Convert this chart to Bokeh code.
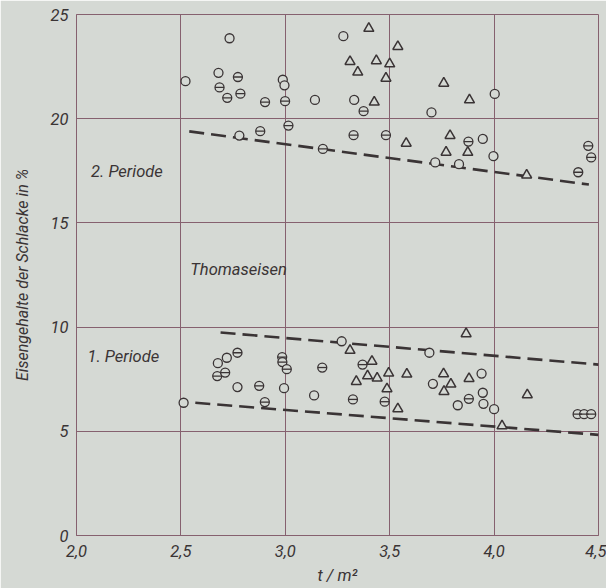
import re
from bokeh.plotting import figure
from bokeh.models import FixedTicker, Label
from bokeh.embed import file_html
from bokeh.resources import INLINE

# ---- data ----
x_ticks = [2.0, 2.5, 3.0, 3.5, 4.0, 4.5]
x_tick_labels = ["2,0", "2,5", "3,0", "3,5", "4,0", "4,5"]
y_ticks = [0, 5, 10, 15, 20, 25]

# 2. Periode
p2_open_x = [2.733, 2.522, 2.68, 2.988, 2.996, 3.142, 3.278, 3.33, 3.70, 2.78, 3.718, 4.003, 3.946, 3.832, 3.997]
p2_open_y = [23.86, 21.8, 22.2, 21.87, 21.6, 20.9, 23.96, 20.9, 20.3, 19.19, 17.9, 21.19, 19.03, 17.82, 18.2]
p2_bar_x = [2.773, 2.685, 2.722, 2.785, 2.903, 2.999, 3.375, 2.88, 3.015, 3.18, 3.327, 3.482, 3.877, 4.451, 4.465, 4.403]
p2_bar_y = [22.0, 21.5, 21.0, 21.2, 20.8, 20.84, 20.36, 19.4, 19.67, 18.55, 19.21, 19.21, 18.9, 18.7, 18.14, 17.43]
p2_tri_x = [3.40, 3.539, 3.31, 3.436, 3.50, 3.347, 3.482, 3.426, 3.759, 3.579, 3.789, 3.77, 3.882, 3.874, 4.156]
p2_tri_y = [24.33, 23.46, 22.74, 22.78, 22.63, 22.23, 21.94, 20.79, 21.7, 18.82, 19.19, 18.39, 20.9, 18.38, 17.29]

# 1. Periode
p1_open_x = [2.513, 2.677, 2.72, 2.771, 2.994, 3.138, 3.27, 3.69, 3.707, 3.94, 3.946, 3.949, 3.826, 4.0]
p1_open_y = [6.37, 8.27, 8.53, 7.12, 7.07, 6.72, 9.32, 8.77, 7.28, 7.77, 6.85, 6.32, 6.25, 6.06]
p1_bar_x = [2.771, 2.674, 2.712, 2.875, 2.902, 2.985, 2.986, 3.007, 3.177, 3.37, 3.324, 3.476, 3.879, 4.40, 4.431, 4.465]
p1_bar_y = [8.77, 7.65, 7.82, 7.18, 6.4, 8.56, 8.32, 7.98, 8.06, 8.2, 6.53, 6.42, 6.56, 5.82, 5.82, 5.82]
p1_tri_x = [3.31, 3.415, 3.34, 3.394, 3.44, 3.495, 3.487, 3.582, 3.539, 3.758, 3.76, 3.866, 3.793, 3.88, 4.038, 4.159]
p1_tri_y = [8.88, 8.36, 7.39, 7.66, 7.55, 7.79, 7.04, 7.74, 6.08, 7.76, 6.91, 9.68, 7.26, 7.53, 5.26, 6.75]

# dashed trend lines (end points)
line_p2_x = [2.54, 4.454]
line_p2_y = [19.39, 16.84]
line_p1_upper_x = [2.69, 4.50]
line_p1_upper_y = [9.74, 8.20]
line_p1_lower_x = [2.569, 4.50]
line_p1_lower_y = [6.37, 4.83]

# ---- style ----
BG = "#d5d9d4"
INK = "#3a3435"
GRID = "#86616f"
FONT = "Roboto"

p = figure(width=606, height=588, x_range=(2.0, 4.5), y_range=(0, 25),
           output_backend="svg", toolbar_location=None,
           min_border_left=76, min_border_right=8, min_border_top=14, min_border_bottom=53)
p.background_fill_color = BG
p.border_fill_color = BG
p.outline_line_color = GRID
p.outline_line_width = 1

p.xgrid.ticker = FixedTicker(ticks=x_ticks)
p.ygrid.ticker = FixedTicker(ticks=y_ticks)
for g in (p.xgrid, p.ygrid):
    g.grid_line_color = GRID
    g.grid_line_width = 1

p.xaxis.ticker = FixedTicker(ticks=x_ticks)
p.xaxis.major_label_overrides = {t: l for t, l in zip(x_ticks, x_tick_labels)}
p.yaxis.ticker = FixedTicker(ticks=y_ticks)
for ax in (p.xaxis, p.yaxis):
    ax.axis_line_color = GRID
    ax.major_tick_line_color = None
    ax.minor_tick_line_color = None
    ax.major_tick_out = 0
    ax.major_tick_in = 0
    ax.major_label_text_font = FONT
    ax.major_label_text_font_style = "italic"
    ax.major_label_text_font_size = "16.5px"
    ax.major_label_text_color = INK
    ax.axis_label_text_font = FONT
    ax.axis_label_text_font_style = "italic"
    ax.axis_label_text_color = INK
p.xaxis.major_label_standoff = 9
p.yaxis.major_label_standoff = 8
p.xaxis.axis_label = "t / m²"
p.xaxis.axis_label_text_font_size = "16.5px"
p.xaxis.axis_label_standoff = 6
p.yaxis.axis_label = "Eisengehalte der Schlacke in %"
p.yaxis.axis_label_text_font_size = "16px"
p.yaxis.axis_label_standoff = 16

# dashed lines
for lx, ly in ((line_p2_x, line_p2_y), (line_p1_upper_x, line_p1_upper_y), (line_p1_lower_x, line_p1_lower_y)):
    p.line(lx, ly, line_color=INK, line_width=2.6, line_dash="15 7")

# markers
for ox, oy in ((p2_open_x, p2_open_y), (p1_open_x, p1_open_y)):
    p.scatter(ox, oy, marker="circle", size=9, fill_color=BG, line_color=INK, line_width=1.3)
for bx, by in ((p2_bar_x, p2_bar_y), (p1_bar_x, p1_bar_y)):
    p.scatter(bx, by, marker="circle", size=9, fill_color=BG, line_color=INK, line_width=1.3)
    p.scatter(bx, by, marker="dash", size=9, line_color=INK, line_width=1.3)
for tx, ty in ((p2_tri_x, p2_tri_y), (p1_tri_x, p1_tri_y)):
    p.scatter(tx, ty, marker="triangle", size=10, fill_color=BG, line_color=INK, line_width=1.5)

# text labels
for txt, lx, ly in (("2. Periode", 2.07, 17.47), ("Thomaseisen", 2.545, 12.76), ("1. Periode", 2.053, 8.59)):
    p.add_layout(Label(x=lx, y=ly, text=txt, text_font=FONT, text_font_style="italic",
                       text_font_size="16.5px", text_color=INK, text_baseline="middle", text_align="left"))

html = file_html(p, INLINE)
html = re.sub(r"<body([^>]*)>", r'<body\1 style="margin:0;background-color:%s;">' % BG, html, count=1)
open("out.html", "w").write(html)
